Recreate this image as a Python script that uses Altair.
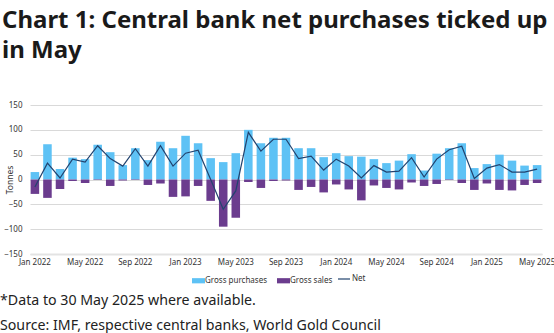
import altair as alt
import pandas as pd

months = [d.strftime("%b %Y") for d in pd.date_range("2022-01-01", "2025-05-01", freq="MS")]
tick_labels = ["Jan 2022", "May 2022", "Sep 2022", "Jan 2023", "May 2023", "Sep 2023",
               "Jan 2024", "May 2024", "Sep 2024", "Jan 2025", "May 2025"]

gross_purchases = [15, 71, 21, 44, 41, 70, 55, 29, 63, 39, 76, 63, 88, 73, 43, 35, 53, 100, 73, 84, 84,
                   63, 63, 45, 53, 47, 46, 41, 33, 38, 51, 18, 52, 63, 73, 23, 31, 50, 38, 28, 29]
gross_sales = [29, 37, 19, 3, 7, 1, 13, 2, 1, 11, 8, 35, 34, 13, 43, 95, 77, 5, 17, 3, 2,
               21, 15, 26, 10, 20, 42, 12, 17, 20, 6, 13, 9, 1, 7, 21, 8, 21, 22, 11, 7]
net = [-15, 33, 3, 41, 35, 68, 42, 27, 62, 27, 68, 27, 53, 59, 0, -60, -23, 95, 57, 81, 81,
       42, 47, 19, 41, 27, 3, 28, 15, 17, 44, 5, 41, 60, 67, 2, 23, 30, 15, 15, 21]
y_ticks = [-150, -100, -50, 0, 50, 100, 150]

notes = ["*Data to 30 May 2025 where available.",
         "Source: IMF, respective central banks, World Gold Council"]

FONT = "Noto Sans"
C_BUY = "#5EC2F5"
C_SELL = "#6B3C8E"
C_NET = "#22436F"

bars_df = pd.DataFrame(
    [{"month": m, "series": "Gross purchases", "value": v} for m, v in zip(months, gross_purchases)]
    + [{"month": m, "series": "Gross sales", "value": -v} for m, v in zip(months, gross_sales)]
)
net_df = pd.DataFrame({"month": months, "value": net, "series": ["Net"] * len(months)})
notes_df = pd.DataFrame({"text": notes, "row": [0, 1]})

xaxis = alt.Axis(values=tick_labels, labelAngle=0, ticks=False,
                 domainColor="#e3e3e3", domainWidth=2, labelFont=FONT,
                 labelFontSize=8, labelColor="#333333", labelPadding=4)
xscale = alt.Scale(paddingInner=0.32, paddingOuter=0.05)
yscale = alt.Scale(domain=[-150, 150], nice=False)
yaxis = alt.Axis(values=y_ticks, title="Tonnes", domain=False, ticks=False,
                 gridColor="#d9d9d9", labelFont=FONT, labelFontSize=8, labelColor="#333333",
                 labelOverlap=False, labelFlush=False,
                 titleFont=FONT, titleFontSize=8.5, titleFontWeight="normal", titleColor="#333333",
                 labelPadding=8, titleX=-21, titleY=74.5, titleAngle=270, titleBaseline="middle",
                 titleAlign="center")

bars = alt.Chart(bars_df).mark_bar().encode(
    x=alt.X("month:N", sort=months, title=None, scale=xscale, axis=xaxis),
    y=alt.Y("value:Q", stack=None, scale=yscale, axis=yaxis),
    color=alt.Color("series:N",
                    scale=alt.Scale(domain=["Gross purchases", "Gross sales"], range=[C_BUY, C_SELL]),
                    legend=alt.Legend(title=None, orient="none", direction="horizontal",
                                      legendX=162, legendY=169,
                                      symbolType="M-1,-0.4H1V0.4H-1Z", symbolSize=169,
                                      labelFont=FONT, labelFontSize=8, labelColor="#333333",
                                      labelOffset=0, columnPadding=9, symbolStrokeWidth=0)),
)

line = alt.Chart(net_df).mark_line(strokeWidth=1.2).encode(
    x=alt.X("month:N", sort=months, title=None, scale=xscale, axis=xaxis),
    y=alt.Y("value:Q", scale=yscale, axis=yaxis),
    stroke=alt.Stroke("series:N", scale=alt.Scale(domain=["Net"], range=[C_NET]),
                      legend=alt.Legend(title=None, orient="none", direction="horizontal",
                                        legendX=307, legendY=167, symbolType="stroke", symbolSize=144,
                                        symbolStrokeWidth=1.2,
                                        labelFont=FONT, labelFontSize=8, labelColor="#333333",
                                        labelOffset=1)),
)

foot1 = alt.Chart(notes_df).transform_filter("datum.row == 0").mark_text(
    align="left", baseline="alphabetic", font=FONT, fontSize=14.2, color="#222222").encode(
    x=alt.value(-30), y=alt.value(200), text="text:N")
foot2 = alt.Chart(notes_df).transform_filter("datum.row == 1").mark_text(
    align="left", baseline="alphabetic", font=FONT, fontSize=14.2, color="#222222").encode(
    x=alt.value(-30), y=alt.value(225), text="text:N")

chart = alt.layer(bars, line, foot1, foot2).properties(
    width=512, height=149,
    padding={"left": 30, "top": 105, "right": 12, "bottom": 79},
    autosize=alt.AutoSizeParams(type="none"),
    title=alt.Title(["Chart 1: Central bank net purchases ticked up", "in May"],
                    anchor="start", frame="group", dx=-28, offset=38, font=FONT, fontSize=24,
                    fontWeight="bold", color="#1a1a1a", lineHeight=30.5),
).configure_view(stroke=None).configure_axisX(grid=False).configure_axisY(labelOverlap=False)

chart.save("out.html", embed_options={"renderer": "svg", "actions": False})
